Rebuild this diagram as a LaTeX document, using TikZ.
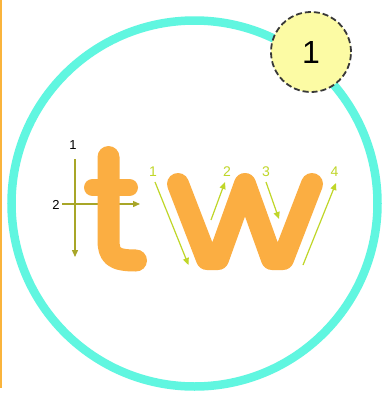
\documentclass[tikz,border=0pt]{standalone}
\usepackage{fontspec}
\setmainfont{Liberation Sans}
\usetikzlibrary{arrows.meta}
\definecolor{letter}{RGB}{251,174,66}
\definecolor{ring}{RGB}{96,246,224}
\definecolor{badge}{RGB}{252,251,164}
\definecolor{olive}{RGB}{168,166,40}
\definecolor{lime}{RGB}{192,214,40}
\definecolor{edgeline}{RGB}{250,180,60}
\tikzset{
  glyph/.style={draw=letter, line cap=round, line join=round},
  tarrow/.style={draw=olive, line width=1.3pt, -{Triangle[length=7pt,width=6pt]}},
  warrow/.style={draw=lime, line width=1.2pt, -{Triangle[length=7pt,width=6pt]}},
  tlabel/.style={font=\fontsize{13}{13}\selectfont, text=black, inner sep=0pt},
  wlabel/.style={font=\fontsize{14}{14}\selectfont, text=lime, inner sep=0pt},
}
\begin{document}
\begin{tikzpicture}[x=1pt,y=-1pt]
\useasboundingbox (0,0) rectangle (389,394);
\fill[white] (0,0) rectangle (389,394);
% left edge line
\draw[edgeline, line width=1.6pt] (1,0) -- (1,388);
% ring
\node[circle, draw=ring, line width=8.5pt, minimum size=366pt, inner sep=0pt] (ring) at (194.5,203.5) {};
% badge
\node[circle, draw=black!78, fill=badge, dash pattern=on 6pt off 3pt, line width=1.8pt, minimum size=80pt, inner sep=0pt,
      font=\fontsize{32}{32}\selectfont] (badge) at (311,52) {1};
% t stroke arrows (behind the letter)
\node[tlabel] (t1) at (73,145) {1};
\node[tlabel] (t2) at (56,205) {2};
\coordinate (t1s) at (75,159);
\coordinate (t1e) at (75,257);
\coordinate (t2s) at (62,204);
\coordinate (t2e) at (140,204);
\draw[tarrow] (t1s) -- (t1e);
\draw[tarrow] (t2s) -- (t2e);
% letter t
\draw[glyph, line width=22pt] (108.5,157) -- (108.5,240) .. controls (108.5,256) and (114,260.5) .. (136,260.5);
\draw[glyph, line width=17pt] (92.5,187.5) -- (129.5,187.5);
% letter w
\draw[glyph, line width=22pt] (178,184) -- (207,259) -- (218,259) -- (245,184) -- (272,259) -- (283,259) -- (312,184);
% w stroke arrows
\node[wlabel] (w1) at (153,172) {1};
\node[wlabel] (w2) at (227,172) {2};
\node[wlabel] (w3) at (266,172) {3};
\node[wlabel] (w4) at (334.5,172) {4};
\coordinate (a1s) at (155,182);
\coordinate (a1e) at (188.5,265);
\coordinate (a2s) at (211,220);
\coordinate (a2e) at (225,182);
\coordinate (a3s) at (266,182);
\coordinate (a3e) at (279,219);
\coordinate (a4s) at (303,265);
\coordinate (a4e) at (336,183);
\draw[warrow] (a1s) -- (a1e);
\draw[warrow] (a2s) -- (a2e);
\draw[warrow] (a3s) -- (a3e);
\draw[warrow] (a4s) -- (a4e);
\end{tikzpicture}
\end{document}
